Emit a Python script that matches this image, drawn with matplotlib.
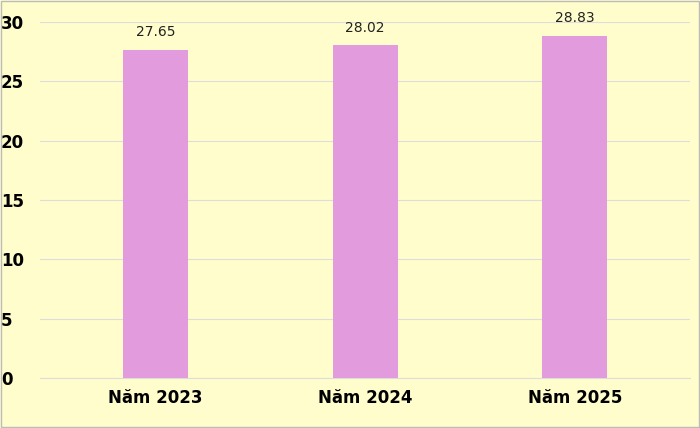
import matplotlib.pyplot as plt
from matplotlib.patches import Rectangle

years = ['Năm 2023', 'Năm 2024', 'Năm 2025']
values = [27.65, 28.02, 28.83]

bg = '#FFFDCC'
fig = plt.figure(figsize=(7, 4.28), dpi=100, facecolor=bg)
fig.patches.append(Rectangle((0.002, 0.002), 0.996, 0.996, transform=fig.transFigure,
                             fill=False, edgecolor='#BBBBBB', linewidth=1))
ax = fig.add_axes([0.057, 0.117, 0.929, 0.832], facecolor=bg)

x = range(len(years))
bars = ax.bar(x, values, width=0.31, color='#E29BDC', zorder=3)
for b, v in zip(bars, values):
    ax.text(b.get_x() + b.get_width() / 2, v + 0.9, f'{v:.2f}',
            ha='center', va='bottom', fontsize=10, color='#222222')

ax.set_xlim(-0.55, 2.55)
ax.set_ylim(0, 30)
ax.set_yticks(range(0, 31, 5))
ax.set_xticks(list(x))
ax.set_xticklabels(years, fontsize=12, fontweight='bold')
ax.tick_params(axis='y', labelsize=12, length=0, pad=28)
ax.tick_params(axis='x', length=0, pad=8)
for lbl in ax.get_yticklabels():
    lbl.set_fontweight('bold')
    lbl.set_horizontalalignment('left')
ax.grid(axis='y', color='#DDDDDD', linewidth=0.8, zorder=0)
for s in ['top', 'right', 'left']:
    ax.spines[s].set_visible(False)
ax.spines['bottom'].set_color('#DDDDDD')

fig.savefig('out.png', dpi=100, facecolor=bg)
